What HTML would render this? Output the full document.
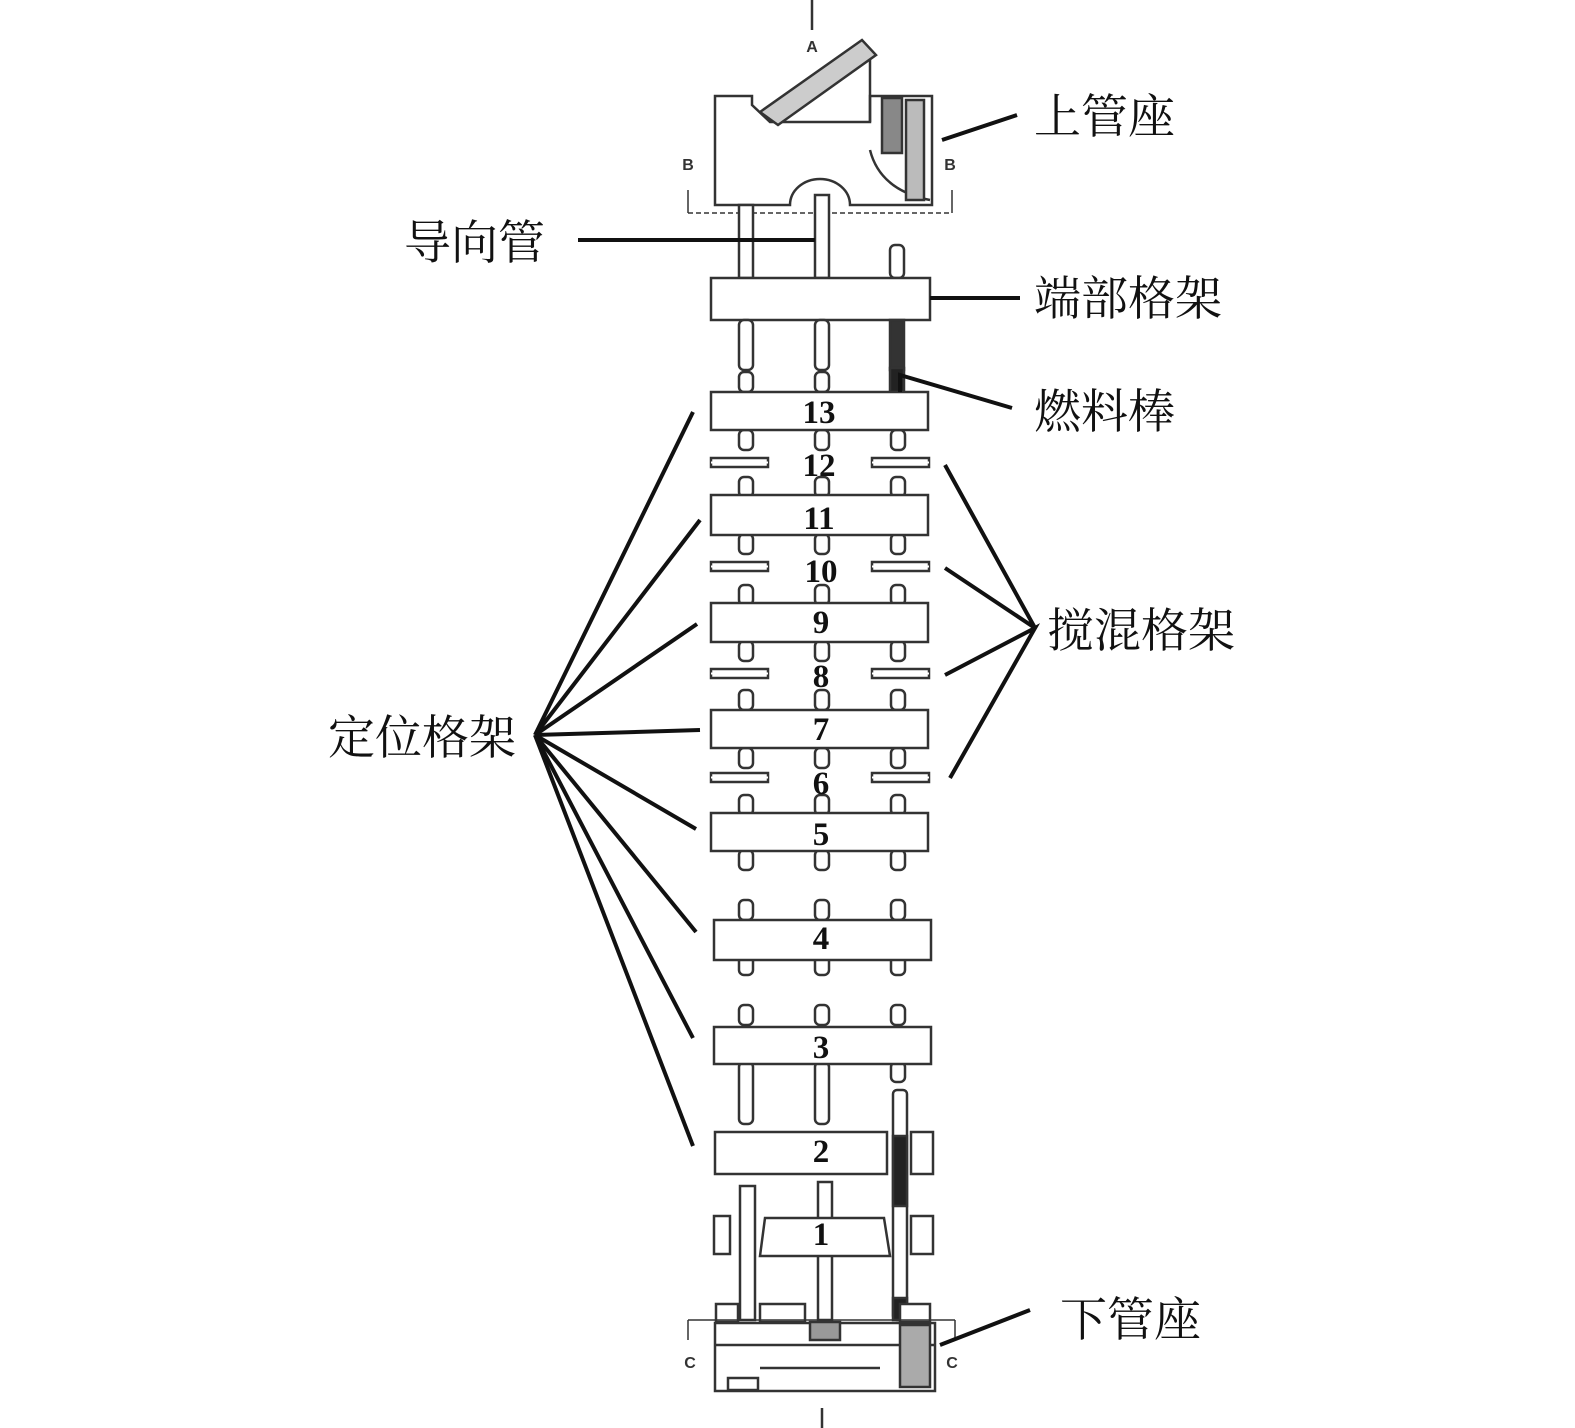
<!DOCTYPE html>
<html><head><meta charset="utf-8"><style>
html,body{margin:0;padding:0;background:#fff;}
svg{display:block;}
.lb{font-family:"Liberation Serif","Noto Serif CJK SC",serif;font-size:47px;fill:#111;}
.n{font-family:"Liberation Serif",serif;font-weight:bold;font-size:33px;fill:#111;text-anchor:middle;}
.s{font-family:"Liberation Sans",sans-serif;font-weight:bold;font-size:16px;fill:#333;text-anchor:middle;}
</style></head><body>
<svg width="1575" height="1428" viewBox="0 0 1575 1428" xmlns="http://www.w3.org/2000/svg">
<defs>
<g id="st"><rect x="-7" y="0" width="14" height="20" rx="5" fill="#fff" stroke="#333" stroke-width="2.5"/></g>
<g id="mx"><rect x="0" y="0" width="57" height="9" fill="#fff" stroke="#333" stroke-width="2.5"/><line x1="0" y1="4.5" x2="57" y2="4.5" stroke="#fff" stroke-width="2"/></g>
</defs>
<g stroke="#333" stroke-width="2.5" fill="none">
<line x1="812" y1="0" x2="812" y2="30"/>
<path d="M715 96 L752 96 L752 105 L770 122 L870 122 L870 96 L932 96 L932 205 L850 205 A30 26 0 0 0 790 205 L715 205 Z" fill="#fff"/>
<path d="M760 112 L862 40 L876 55 L778 125 Z" fill="#ccc"/>
<line x1="870" y1="60" x2="870" y2="122"/>
<rect x="882" y="98" width="20" height="55" fill="#888"/>
<path d="M870 150 Q880 190 930 200" />
<rect x="906" y="100" width="18" height="100" fill="#bbb"/>
<line x1="688" y1="213" x2="952" y2="213" stroke-dasharray="5 3" stroke-width="1.5"/>
<line x1="688" y1="190" x2="688" y2="213" stroke-width="1.5"/>
<line x1="952" y1="190" x2="952" y2="213" stroke-width="1.5"/>
<rect x="739" y="205" width="14" height="73" fill="#fff"/>
<rect x="815" y="195" width="14" height="83" fill="#fff"/>
<rect x="890" y="245" width="14" height="33" rx="5" fill="#fff"/>
<rect x="711" y="278" width="219" height="42" fill="#fff"/>
<rect x="739" y="320" width="14" height="50" rx="5" fill="#fff"/>
<rect x="815" y="320" width="14" height="50" rx="5" fill="#fff"/>
<rect x="890" y="320" width="14" height="50" fill="#333"/>
<rect x="890" y="368" width="14" height="24" fill="#222"/>
</g>
<g>
<use href="#st" x="746" y="372"/><use href="#st" x="822" y="372"/>
<use href="#st" x="746" y="430"/><use href="#st" x="822" y="430"/><use href="#st" x="898" y="430"/>
<use href="#st" x="746" y="477"/><use href="#st" x="822" y="477"/><use href="#st" x="898" y="477"/>
<use href="#st" x="746" y="534"/><use href="#st" x="822" y="534"/><use href="#st" x="898" y="534"/>
<use href="#st" x="746" y="585"/><use href="#st" x="822" y="585"/><use href="#st" x="898" y="585"/>
<use href="#st" x="746" y="641"/><use href="#st" x="822" y="641"/><use href="#st" x="898" y="641"/>
<use href="#st" x="746" y="690"/><use href="#st" x="822" y="690"/><use href="#st" x="898" y="690"/>
<use href="#st" x="746" y="748"/><use href="#st" x="822" y="748"/><use href="#st" x="898" y="748"/>
<use href="#st" x="746" y="795"/><use href="#st" x="822" y="795"/><use href="#st" x="898" y="795"/>
<use href="#st" x="746" y="850"/><use href="#st" x="822" y="850"/><use href="#st" x="898" y="850"/>
<use href="#st" x="746" y="900"/><use href="#st" x="822" y="900"/><use href="#st" x="898" y="900"/>
<use href="#st" x="746" y="955"/><use href="#st" x="822" y="955"/><use href="#st" x="898" y="955"/>
<use href="#st" x="746" y="1005"/><use href="#st" x="822" y="1005"/><use href="#st" x="898" y="1005"/>
<use href="#st" x="898" y="1062"/>
</g>
<g stroke="#333" stroke-width="2.5" fill="#fff">
<rect x="739" y="1062" width="14" height="62" rx="5"/>
<rect x="815" y="1062" width="14" height="62" rx="5"/>
<rect x="711" y="392" width="217" height="38"/>
<rect x="711" y="495" width="217" height="40"/>
<rect x="711" y="603" width="217" height="39"/>
<rect x="711" y="710" width="217" height="38"/>
<rect x="711" y="813" width="217" height="38"/>
<rect x="714" y="920" width="217" height="40"/>
<rect x="714" y="1027" width="217" height="37"/>
<rect x="715" y="1132" width="172" height="42"/>
<rect x="911" y="1132" width="22" height="42"/>
<rect x="714" y="1216" width="16" height="38"/>
<rect x="911" y="1216" width="22" height="38"/>
</g>
<g>
<use href="#mx" x="711" y="458"/><use href="#mx" x="872" y="458"/>
<use href="#mx" x="711" y="562"/><use href="#mx" x="872" y="562"/>
<use href="#mx" x="711" y="669"/><use href="#mx" x="872" y="669"/>
<use href="#mx" x="711" y="773"/><use href="#mx" x="872" y="773"/>
</g>
<g stroke="#333" stroke-width="2.5" fill="#fff">
<rect x="740" y="1186" width="15" height="134"/>
<rect x="818" y="1182" width="14" height="138"/>
<rect x="893" y="1090" width="14" height="230" rx="4"/>
<rect x="893" y="1136" width="14" height="70" fill="#222"/>
<rect x="893" y="1298" width="14" height="22" fill="#222"/>
<path d="M765 1218 L884 1218 L890 1256 L760 1256 Z"/>
<rect x="715" y="1323" width="220" height="68"/>
<rect x="760" y="1304" width="45" height="18"/>
<rect x="716" y="1304" width="22" height="18"/>
<rect x="900" y="1304" width="30" height="18"/>
<line x1="715" y1="1345" x2="935" y2="1345"/>
<line x1="760" y1="1368" x2="880" y2="1368"/>
<rect x="810" y="1322" width="30" height="18" fill="#999"/>
<rect x="900" y="1325" width="30" height="62" fill="#aaa"/>
<rect x="728" y="1378" width="30" height="12"/>
<line x1="688" y1="1320" x2="955" y2="1320" stroke-width="1.5"/>
<line x1="688" y1="1320" x2="688" y2="1340" stroke-width="1.5"/>
<line x1="955" y1="1320" x2="955" y2="1340" stroke-width="1.5"/>
<line x1="822" y1="1408" x2="822" y2="1428"/>
</g>
<text class="s" x="812" y="52">A</text>
<text class="s" x="688" y="170">B</text><text class="s" x="950" y="170">B</text>
<text class="s" x="690" y="1368">C</text><text class="s" x="952" y="1368">C</text>
<g>
<text x="819" y="423" class="n">13</text>
<text x="819" y="476" class="n">12</text>
<text x="819" y="529" class="n">11</text>
<text x="821" y="582" class="n">10</text>
<text x="821" y="633" class="n">9</text>
<text x="821" y="687" class="n">8</text>
<text x="821" y="740" class="n">7</text>
<text x="821" y="794" class="n">6</text>
<text x="821" y="845" class="n">5</text>
<text x="821" y="949" class="n">4</text>
<text x="821" y="1058" class="n">3</text>
<text x="821" y="1162" class="n">2</text>
<text x="821" y="1245" class="n">1</text>
</g>
<g stroke="#111" stroke-width="4" fill="none">
<line x1="942" y1="140" x2="1017" y2="115"/>
<line x1="578" y1="240" x2="815" y2="240"/>
<line x1="930" y1="298" x2="1020" y2="298"/>
<polyline points="900,392 900,375 1012,408"/>
<polyline points="945,465 1035,628 945,568"/>
<polyline points="945,675 1035,628 950,778"/>
<line x1="535" y1="735" x2="693" y2="412"/>
<line x1="535" y1="735" x2="700" y2="520"/>
<line x1="535" y1="735" x2="697" y2="624"/>
<line x1="535" y1="735" x2="700" y2="730"/>
<line x1="535" y1="735" x2="696" y2="829"/>
<line x1="535" y1="735" x2="696" y2="932"/>
<line x1="535" y1="735" x2="693" y2="1038"/>
<line x1="535" y1="735" x2="693" y2="1146"/>
<line x1="940" y1="1345" x2="1030" y2="1310"/>
</g>
<text class="lb" x="1034" y="133">上管座</text>
<text class="lb" x="404" y="259">导向管</text>
<text class="lb" x="1034" y="315">端部格架</text>
<text class="lb" x="1034" y="428">燃料棒</text>
<text class="lb" x="1047" y="647">搅混格架</text>
<text class="lb" x="328" y="754">定位格架</text>
<text class="lb" x="1060" y="1336">下管座</text>
</svg>
</body></html>
